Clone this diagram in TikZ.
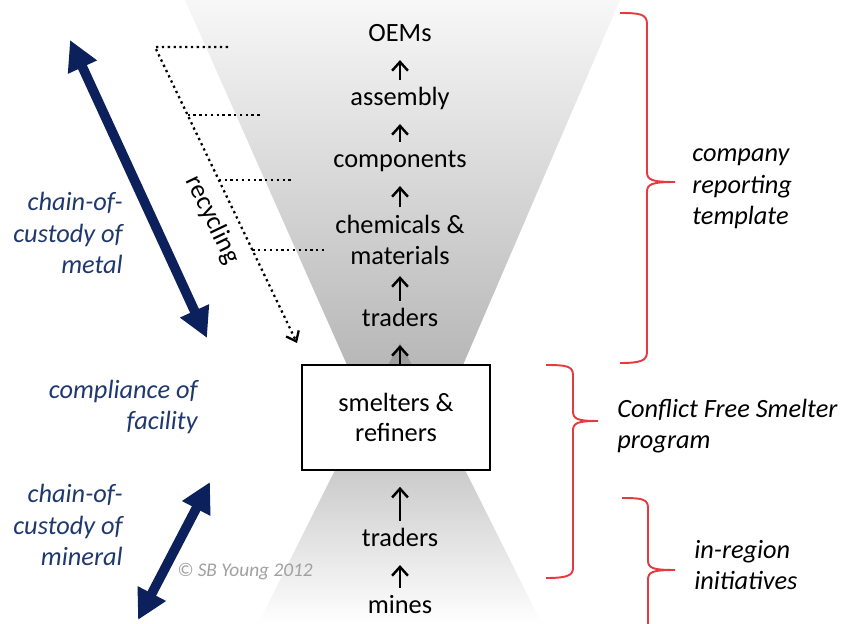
\documentclass[tikz,border=0pt]{standalone}
\usepackage{fontspec}
\setmainfont{Carlito}
\usetikzlibrary{arrows.meta, calc, positioning}
\definecolor{myblue}{RGB}{31, 56, 110}
\definecolor{mynavy}{RGB}{12, 32, 92}
\definecolor{myred}{RGB}{228, 58, 64}
\definecolor{mygray}{RGB}{160, 160, 160}
\tikzset{>=latex}

\begin{document}
\begin{tikzpicture}[x = 0.02cm, y = -0.02cm,
  stage/.style = {font = \fontsize{15}{18}\selectfont, text height = 10.5pt, text depth = 3.75pt, anchor = base},
  stagetwo/.style = {font = \fontsize{15}{17.5}\selectfont, align = center},
  chainarr/.style = {-{Straight Barb[length = 5pt, width = 9pt]}, line width = 1.4pt, shorten > = 3pt, shorten < = 1pt},
  custody/.style = {mynavy, line width = 5.5pt, {Triangle[length = 17pt, width = 17pt]}-{Triangle[length = 17pt, width = 17pt]}},
  dotline/.style = {dotted, line width = 1.3pt},
  bluetext/.style = {myblue, font = \fontsize{15}{18}\selectfont\itshape, align = right, inner sep = 0pt, anchor = east},
  bracetext/.style = {font = \fontsize{15}{18}\selectfont\itshape, align = left, inner sep = 0pt, anchor = west},
  redbrace/.style = {myred, line width = 1.1pt}]
\useasboundingbox (0,0) rectangle (856,624);

% funnels
\shade[top color = black!38, bottom color = white] (400,340) -- (258,624) -- (542,624) -- cycle;
\shade[top color = black!3, bottom color = black!28] (185,0) -- (620,0) -- (463,365) -- (347,365) -- cycle;
\fill[black!38] (400,343) -- (388,365) -- (412,365) -- cycle;

% supply chain
\node[stage] (oem) at (400,42) {OEMs};
\node[stage] (assembly) at (400,106) {assembly};
\node[stage] (components) at (400,168) {components};
\node[stagetwo] (chemicals) at (400,240) {chemicals \&\\materials};
\node[stage] (traders) at (400,327) {traders};
\node[stagetwo, draw, line width = 1.2pt, fill = white, minimum width = 3.76cm, minimum height = 2.1cm] (smelters) at (396,417.5) {smelters \&\\refiners};
\node[stage] (traderslow) at (400,547) {traders};
\node[stage] (mines) at (400,614) {mines};

\draw[chainarr] (assembly) -- (oem);
\draw[chainarr] (components) -- (assembly);
\draw[chainarr] (chemicals) -- (components);
\draw[chainarr] (traders) -- (chemicals);
\draw[chainarr, shorten < = 0pt] (traders |- smelters.north) -- (traders);
\draw[chainarr, shorten > = 9pt] (traderslow) -- (traders |- smelters.south);
\draw[chainarr] (mines) -- (traderslow);

% recycling
\coordinate (recA) at (228,47);
\coordinate (recTop) at (155,47);
\coordinate (recEnd) at (297,343);
\draw[dotline, -{Straight Barb[length = 5pt, width = 8pt]}] (recA) -- (recTop) -- (recEnd)
  node[sloped, below, pos = 0.55, inner sep = 6pt, font = \fontsize{15}{18}\selectfont] (rectext) {recycling};
\coordinate (recB) at ($(recTop)!0.23!(recEnd)$);
\coordinate (recC) at ($(recTop)!0.449!(recEnd)$);
\coordinate (recD) at ($(recTop)!0.686!(recEnd)$);
\draw[dotline] (recB) -- ++(72,0);
\draw[dotline] (recC) -- ++(72,0);
\draw[dotline] (recD) -- ++(72,0);

% chain of custody
\coordinate (metalTop) at (70,40);
\coordinate (metalBot) at (207,338);
\coordinate (mineralTop) at (210,482);
\coordinate (mineralBot) at (138,620);
\draw[custody] (metalTop) -- (metalBot);
\draw[custody] (mineralTop) -- (mineralBot);
\node[bluetext] (metal) at (123,233) {chain-of-\\custody of\\metal};
\node[bluetext] (facility) at (198,407) {compliance of\\facility};
\node[bluetext] (mineral) at (123,525) {chain-of-\\custody of\\mineral};
\node[mygray, font = \fontsize{11}{13}\selectfont\itshape] (copy) at (245,572) {© SB Young 2012};

% braces
\draw[redbrace] (620,13) .. controls (640,13) and (647,14) .. (647,24) -- (647,172)
  .. controls (647,180) and (652,182) .. (675,182) .. controls (652,182) and (647,184) .. (647,192)
  -- (647,352) .. controls (647,361) and (640,363) .. (620,363);
\draw[redbrace] (546,365) .. controls (566,365) and (573,366) .. (573,375) -- (573,411)
  .. controls (573,419) and (577,421) .. (598,421) .. controls (577,421) and (573,423) .. (573,431)
  -- (573,568) .. controls (573,576) and (566,578) .. (546,578);
\draw[redbrace] (622,498) .. controls (642,498) and (648,499) .. (648,508) -- (648,560)
  .. controls (648,568) and (652,570) .. (675,570) .. controls (652,570) and (648,572) .. (648,580)
  -- (648,624);
\node[bracetext] (template) at (692,189) {company\\reporting\\template};
\node[bracetext] (cfs) at (617,426) {Conflict Free Smelter\\program};
\node[bracetext] (inregion) at (694,565) {in-region\\initiatives};
\end{tikzpicture}
\end{document}
